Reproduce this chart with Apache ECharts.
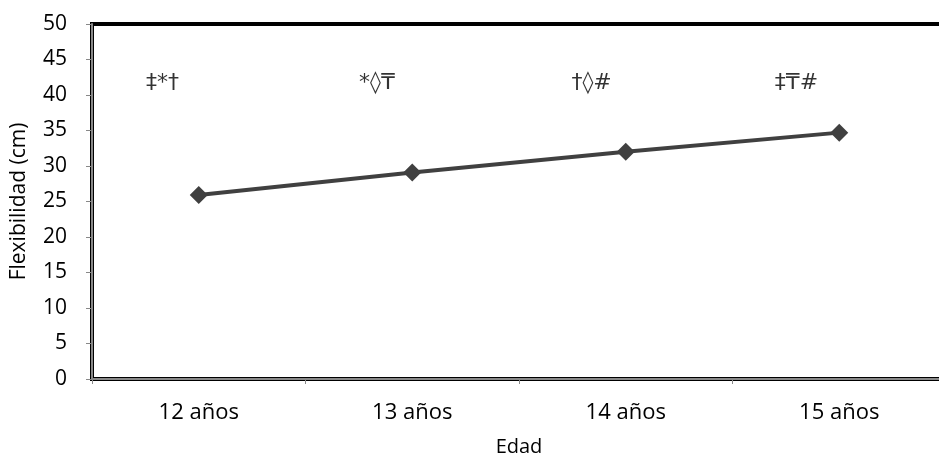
<!DOCTYPE html>
<html><head><meta charset="utf-8">
<script src="https://cdn.jsdelivr.net/npm/echarts@6/dist/echarts.min.js"></script>
<style>html,body{margin:0;padding:0;background:#fff}#c{width:939px;height:461px}</style>
</head><body><div id="c"></div>
<script>
const categories = ['12 años', '13 años', '14 años', '15 años'];
const flexValues = [25.9, 29.1, 32.0, 34.7];
const yTicks = [0, 5, 10, 15, 20, 25, 30, 35, 40, 45, 50];
const annotTexts = ['‡*†', '*◊₸', '†◊#', '‡₸#'];
const annotX = [0.33, 1.335, 2.34, 3.30];
const annotY = [41.6, 41.6, 41.6, 41.6];

const font = '"Open Sans", "Noto Sans", sans-serif';
const chart = echarts.init(document.getElementById('c'), null, {renderer: 'canvas'});
chart.setOption({
  animation: false,
  grid: {left: 92, top: 24, width: 854, bottom: 82, containLabel: false, outerBoundsMode: 'none',
    show: true, borderColor: '#000', borderWidth: 4, backgroundColor: 'transparent'},
  xAxis: [{
    type: 'category', data: categories, boundaryGap: true,
    name: 'Edad', nameLocation: 'middle', nameGap: 58,
    nameTextStyle: {fontFamily: font, fontSize: 20, color: '#000'},
    axisLine: {lineStyle: {color: '#888', width: 2}},
    axisTick: {show: true, length: 5, lineStyle: {color: '#888', width: 1}},
    axisLabel: {fontFamily: font, fontSize: 22, color: '#000', margin: 23},
    splitLine: {show: false}
  }, {
    type: 'value', min: 0, max: 4, show: false
  }],
  yAxis: {
    type: 'value', min: 0, max: 50, interval: 5,
    name: 'Flexibilidad (cm)', nameLocation: 'middle', nameGap: 62, nameRotate: 90,
    nameTextStyle: {fontFamily: font, fontSize: 21, color: '#000'},
    axisLine: {show: true, lineStyle: {color: '#888', width: 2}},
    axisTick: {show: true, length: 6, lineStyle: {color: '#888', width: 1}},
    axisLabel: {fontFamily: font, fontSize: 21, color: '#000', margin: 25,
      formatter: v => yTicks.includes(v) ? String(v) : ''},
    splitLine: {show: false}
  },
  series: [{
    type: 'line', xAxisIndex: 0, data: flexValues,
    symbol: 'diamond', symbolSize: 18,
    lineStyle: {color: '#404040', width: 4},
    itemStyle: {color: '#404040'}
  }, {
    type: 'scatter', xAxisIndex: 1,
    data: annotX.map((x, i) => [x, annotY[i], annotTexts[i]]),
    symbolSize: 1, itemStyle: {color: 'transparent'},
    label: {show: true, position: 'inside', formatter: p => p.data[2],
      fontFamily: '"DejaVu Sans", sans-serif', fontSize: 22, color: '#000'},
    silent: true
  }]
});
</script></body></html>
